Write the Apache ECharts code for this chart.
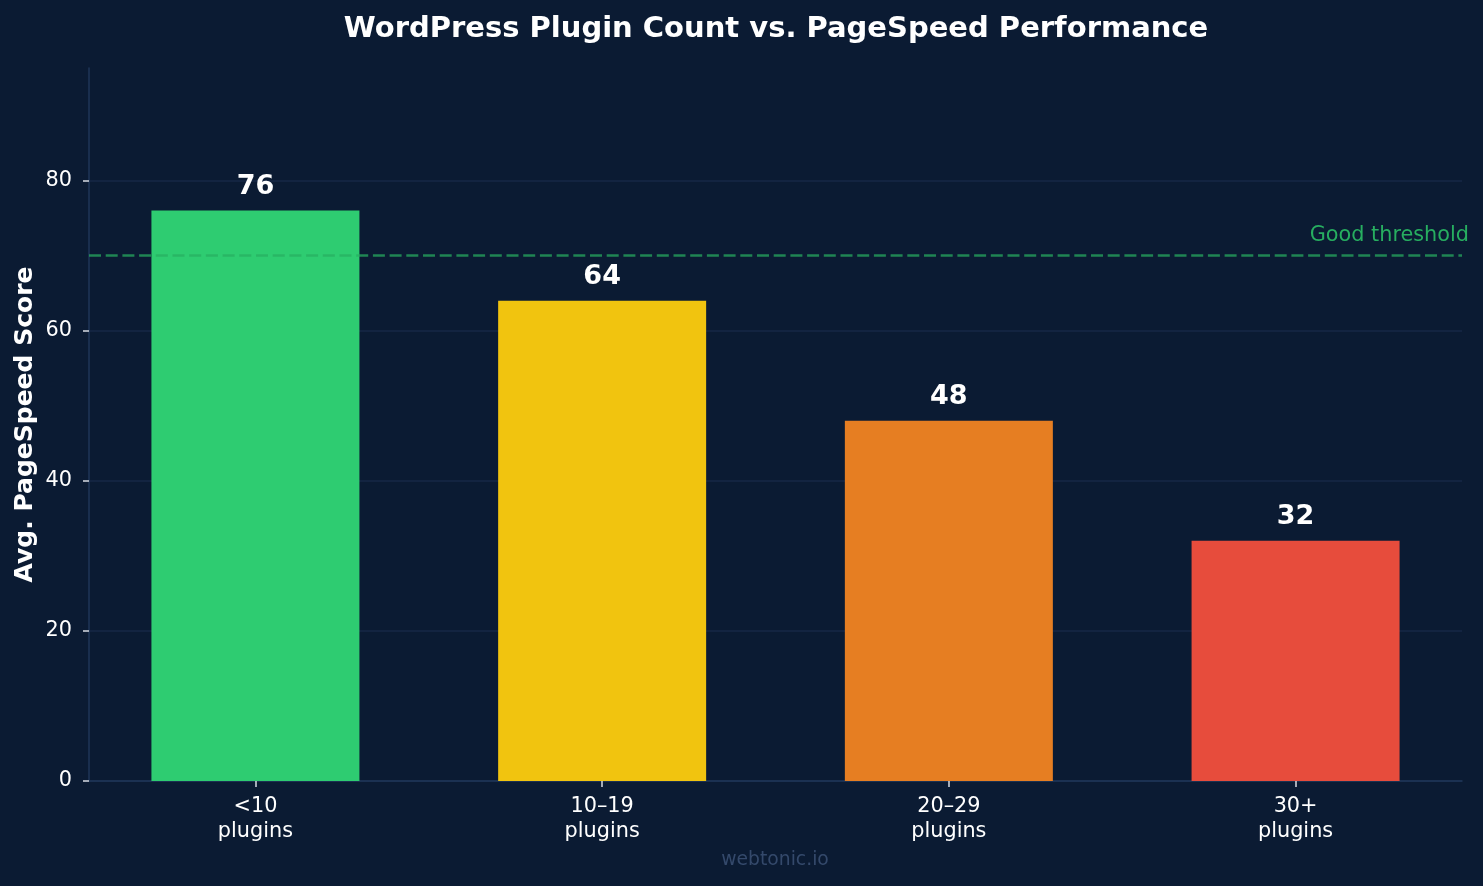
<!DOCTYPE html>
<html>
<head>
<meta charset="utf-8">
<script src="https://cdn.jsdelivr.net/npm/echarts@6/dist/echarts.min.js"></script>
<style>
  html, body { margin: 0; padding: 0; background: #0b1b33; }
  #chart { width: 1483px; height: 886px; }
</style>
</head>
<body>
<div id="chart"></div>
<script>
// data
var categories = ['<10\nplugins', '10–19\nplugins', '20–29\nplugins', '30+\nplugins'];
var scores = [76, 64, 48, 32];
var yTicks = [0, 20, 40, 60, 80];
var threshold = 70;

// colours per bar
var barColors = ['#2ecc71', '#f1c40f', '#e67e22', '#e74c3c'];

var font = 'DejaVu Sans';
var chart = echarts.init(document.getElementById('chart'));

var positions = categories.map(function (c, i) { return i; });

var option = {
  backgroundColor: '#0b1b33',
  textStyle: { fontFamily: font },
  title: {
    text: 'WordPress Plugin Count vs. PageSpeed Performance',
    left: 771,
    textAlign: 'center',
    top: 10,
    textStyle: { color: '#ffffff', fontSize: 29, fontWeight: 'bold', fontFamily: font }
  },
  grid: { left: 89, right: 21, top: 68, bottom: 105, containLabel: false, outerBoundsMode: 'none' },
  xAxis: {
    type: 'value',
    min: -0.48,
    max: 3.48,
    splitLine: { show: false },
    axisLine: { show: true, onZero: false, lineStyle: { color: '#1f3658', width: 1.5 } },
    axisTick: { show: true, customValues: positions, length: 6, lineStyle: { color: '#d8dce4', width: 1.5 } },
    axisLabel: {
      customValues: positions,
      color: '#ffffff',
      fontSize: 20.8,
      lineHeight: 25,
      margin: 13,
      fontFamily: font,
      formatter: function (v) { return categories[Math.round(v)]; }
    }
  },
  yAxis: {
    type: 'value',
    min: 0,
    max: 95,
    name: 'Avg. PageSpeed Score',
    nameLocation: 'middle',
    nameMoveOverlap: false,
    nameGap: 51,
    nameTextStyle: { color: '#ffffff', fontSize: 25, fontWeight: 'bold', fontFamily: font },
    axisLine: { show: true, onZero: false, lineStyle: { color: '#1f3658', width: 1.5 } },
    axisTick: { show: true, customValues: yTicks, length: 6, lineStyle: { color: '#d8dce4', width: 1.5 } },
    axisLabel: { customValues: yTicks, color: '#ffffff', fontSize: 20.8, margin: 17, fontFamily: font },
    splitLine: { show: true, lineStyle: { color: '#172947', width: 1.5 } }
  },
  series: [{
    type: 'bar',
    barWidth: 208,
    data: scores.map(function (s, i) {
      return { value: [i, s], itemStyle: { color: barColors[i] } };
    }),
    label: {
      show: true,
      position: 'top',
      distance: 10,
      color: '#ffffff',
      fontSize: 27,
      fontWeight: 'bold',
      fontFamily: font,
      formatter: function (p) { return p.value[1]; }
    },
    markLine: {
      silent: true,
      symbol: ['none', 'none'],
      lineStyle: { color: 'rgba(39,174,96,0.72)', opacity: 1, type: [12, 4.7], width: 2.7 },
      label: {
        show: true,
        position: 'insideEndTop',
        formatter: 'Good threshold',
        color: '#27ae60',
        fontSize: 20.8,
        fontFamily: font,
        offset: [12, -5]
      },
      data: [{ yAxis: threshold }]
    }
  }],
  graphic: [{
    type: 'text',
    x: 775,
    y: 851,
    style: { text: 'webtonic.io', fill: '#34496b', fontSize: 18.75, fontFamily: font, align: 'center', textAlign: 'center' }
  }]
};

chart.setOption(option);
</script>
</body>
</html>
